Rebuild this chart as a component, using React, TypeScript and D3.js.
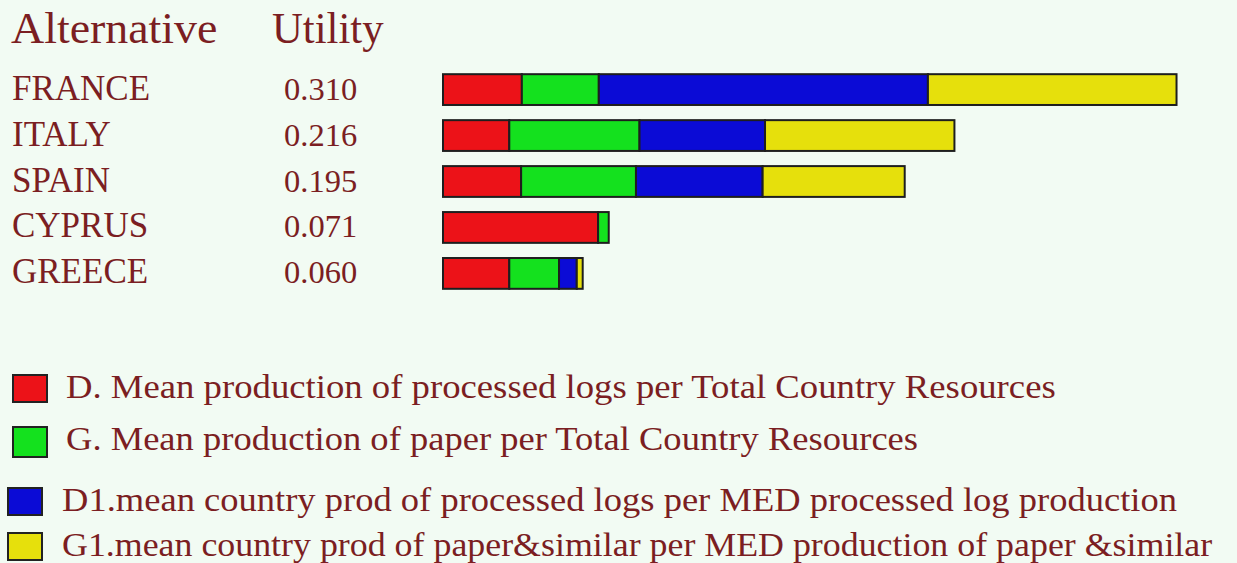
import React from 'react';
import * as d3 from 'd3';

// alternatives and their overall utility
const alternatives = ['FRANCE', 'ITALY', 'SPAIN', 'CYPRUS', 'GREECE'];
const utility = ['0.310', '0.216', '0.195', '0.071', '0.060'];

// criterion contributions
const critD = [0.0333, 0.028, 0.033, 0.0655, 0.028];
const critG = [0.0325, 0.055, 0.0485, 0.0045, 0.021];
const critD1 = [0.139, 0.053, 0.0535, 0, 0.0075];
const critG1 = [0.105, 0.080, 0.060, 0, 0.0025];

const criteriaLabels = [
  'D. Mean production of processed logs per Total Country Resources',
  'G. Mean production of paper per Total Country Resources',
  'D1.mean country prod of processed logs per MED processed log production',
  'G1.mean country prod of paper&similar per MED production of paper &similar',
];
const colors = ['#ec1218', '#14e11e', '#0b0bd6', '#e6e00c'];

const W = 1237;
const H = 563;
const textColor = '#7b1e22';
const font = '"Liberation Serif", "Times New Roman", serif';

const App = () => {
  const keys = ['D', 'G', 'D1', 'G1'];
  const rows = alternatives.map((name, i) => ({
    name,
    D: critD[i],
    G: critG[i],
    D1: critD1[i],
    G1: critG1[i],
  }));
  const stacked = d3.stack<any>().keys(keys)(rows);

  const x = d3.scaleLinear().domain([0, 0.31]).range([443, 1177]);
  const y = d3.scaleBand().domain(alternatives).range([65, 298]).paddingInner(0.33).paddingOuter(0.2);
  const mid = (a: string) => (y(a) as number) + y.bandwidth() / 2;

  // legend rows are not evenly spaced in the original
  const legendY = d3.scaleOrdinal<string, number>().domain(keys).range([388, 440, 501, 546]);
  const legendStretch = [1.08, 1.075, 1.075, 1.055];

  return (
    <div style={{ position: 'fixed', left: 0, top: 0, width: W, height: H }}>
      <svg width={W} height={H} style={{ display: 'block', background: '#f2fbf3' }}>
        <g fill={textColor} fontFamily={font}>
          <text transform="translate(11,43) scale(1.02,1)" fontSize={45}>Alternative</text>
          <text transform="translate(272,43) scale(0.95,1)" fontSize={45}>Utility</text>
          {alternatives.map((a, i) => (
            <g key={a}>
              <text x={12} y={mid(a) + 10} fontSize={35}>{a}</text>
              <text x={284} y={mid(a) + 10} fontSize={32.5}>{utility[i]}</text>
            </g>
          ))}
        </g>

        {stacked.map((layer, k) => (
          <g key={layer.key} fill={colors[k]} stroke="#1e1e1e" strokeWidth={2}>
            {layer.map((d, i) =>
              d[1] - d[0] > 0 ? (
                <rect
                  key={i}
                  x={x(d[0])}
                  y={y(alternatives[i])}
                  width={x(d[1]) - x(d[0])}
                  height={y.bandwidth()}
                />
              ) : null
            )}
          </g>
        ))}

        {keys.map((k, i) => (
          <g key={k}>
            <rect
              x={i < 2 ? 13 : 8}
              y={legendY(k) - 13}
              width={34}
              height={i === 1 ? 30 : 27}
              fill={colors[i]}
              stroke="#222"
              strokeWidth={2}
            />
            <text
              transform={`translate(${i < 2 ? 66 : 62},${legendY(k) + 10}) scale(${legendStretch[i]},1)`}
              fill={textColor}
              fontFamily={font}
              fontSize={34}
            >
              {criteriaLabels[i]}
            </text>
          </g>
        ))}
      </svg>
    </div>
  );
};

export default App;
